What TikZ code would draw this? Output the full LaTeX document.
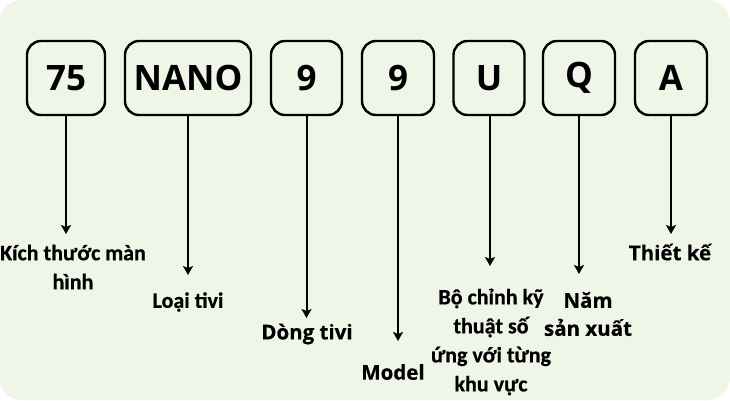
\documentclass[tikz,border=0pt]{standalone}
\usepackage{fontspec}
\usetikzlibrary{arrows.meta}
\newfontfamily\boxfont{Open Sans}
\newfontfamily\labfont{Carlito}[BoldFeatures={FakeBold=0.6}]
\newfontfamily\labfontB{Open Sans}[BoldFeatures={FakeBold=0.4}]
\definecolor{bgcol}{HTML}{EFF5E7}
\tikzset{
  codebox/.style={draw=black, line width=2.4pt, rounded corners=14pt, fill=bgcol,
    minimum height=74pt, inner sep=0pt, font=\boxfont\bfseries\fontsize{35}{38}\selectfont},
  arr/.style={line width=2pt, -{Stealth[length=9pt,width=10pt,inset=2pt]}},
  labA/.style={font=\labfont\bfseries\fontsize{22}{29}\selectfont, align=center, inner sep=0pt},
  labB/.style={font=\labfontB\bfseries\fontsize{20.5}{28}\selectfont, align=center, inner sep=0pt},
}
\begin{document}
\begin{tikzpicture}[x=1pt,y=-1pt]
\useasboundingbox (0,0) rectangle (730,400);
\fill[bgcol, rounded corners=22pt] (0,0) rectangle (730,400);
% boxes
\node[codebox, minimum width=78pt]  (b1) at (66,78)    {75};
\node[codebox, minimum width=126pt] (b2) at (188,78)   {NANO};
\node[codebox, minimum width=71pt]  (b3) at (306.5,78) {9};
\node[codebox, minimum width=72pt]  (b4) at (398,78)   {9};
\node[codebox, minimum width=71pt]  (b5) at (489,78)   {U};
\node[codebox, minimum width=72pt]  (b6) at (579,78)   {Q};
\node[codebox, minimum width=72pt]  (b7) at (671,78)   {A};
% labels
\node[labA] (l1) at (73,267)  {Kích thước màn\\hình};
\node[labA] (l2) at (188,302) {Loại tivi};
\node[labB] (l3) at (307,334) {Dòng tivi};
\node[labB] (l4) at (393,372) {Model};
\node[labA] (l5) at (491,342) {Bộ chỉnh kỹ\\thuật số\\ứng với từng\\khu vực};
\node[labB] (l6) at (588,314) {Năm\\sản xuất};
\node[labB] (l7) at (670,252) {Thiết kế};
% arrow tips
\coordinate (t1) at (b1.south |- 0,234);
\coordinate (t2) at (b2.south |- 0,275);
\coordinate (t3) at (b3.south |- 0,318);
\coordinate (t4) at (b4.south |- 0,341);
\coordinate (t5) at (490,266);
\coordinate (t6) at (b6.south |- 0,274);
\coordinate (t7) at (b7.south |- 0,234);
\draw[arr] (b1.south) -- (t1);
\draw[arr] (b2.south) -- (t2);
\draw[arr] (b3.south) -- (t3);
\draw[arr] (b4.south) -- (t4);
\draw[arr] (b5.south -| t5) -- (t5);
\draw[arr] (b6.south) -- (t6);
\draw[arr] (b7.south) -- (t7);
\end{tikzpicture}
\end{document}
